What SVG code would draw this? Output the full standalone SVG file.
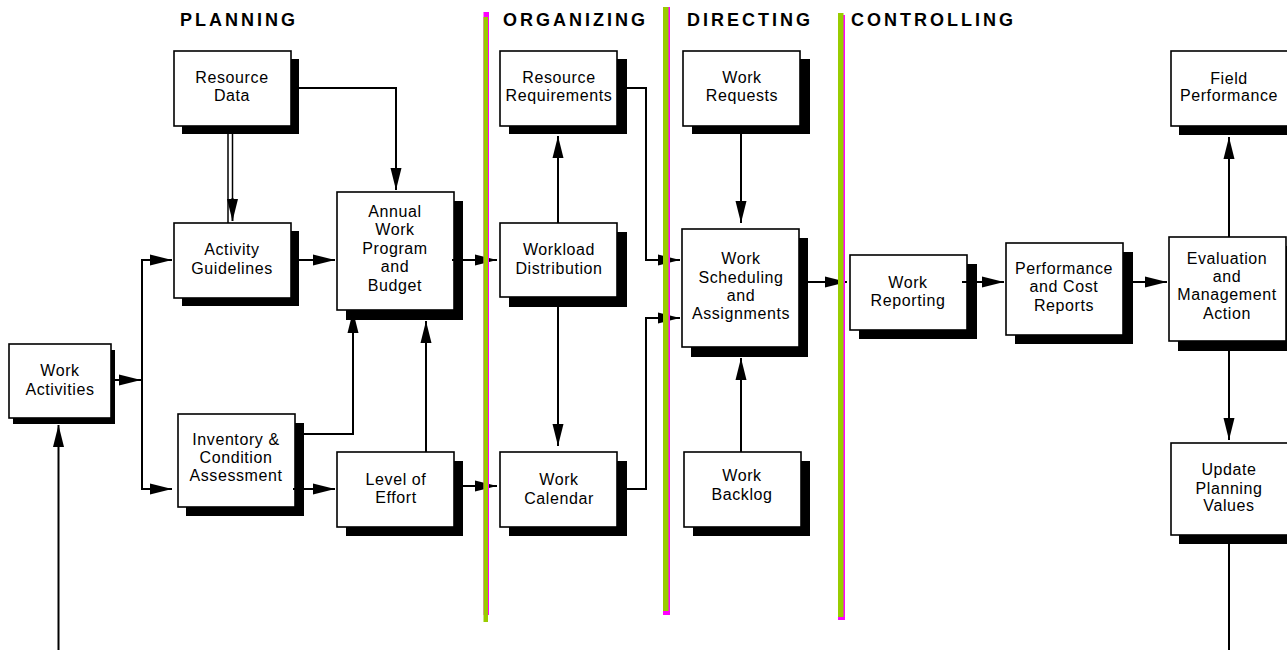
<svg xmlns="http://www.w3.org/2000/svg" width="1287" height="650" viewBox="0 0 1287 650">
<style>
.bg{fill:#fff}
.hdr{font-family:"Liberation Sans",Arial,sans-serif;font-size:18px;font-weight:bold;letter-spacing:3px;fill:#000}
.box{fill:#fff;stroke:#000;stroke-width:1.6}
.sh{fill:#000}
.t{font-family:"Liberation Sans",Arial,sans-serif;font-size:16px;letter-spacing:0.6px;fill:#000;text-anchor:middle}
.c{fill:none;stroke:#000;stroke-width:2}
.cd{fill:none;stroke:#000;stroke-width:1.5}
.ca{fill:none;stroke:#000;stroke-width:2;marker-end:url(#ah)}
.g{fill:#99cc00}
.m{fill:#ff00ff}
</style>
<defs>
<marker id="ah" markerUnits="userSpaceOnUse" markerWidth="23" markerHeight="12" viewBox="0 0 23 12" refX="22" refY="6" orient="auto">
<path d="M0,0.5 L22,6 L0,11.5 z" fill="#000"/>
</marker>
</defs>
<rect class="bg" x="0" y="0" width="1287" height="650"/>

<g id="headers">
<text class="hdr" x="180" y="26">PLANNING</text>
<text class="hdr" x="503" y="26">ORGANIZING</text>
<text class="hdr" x="687" y="26">DIRECTING</text>
<text class="hdr" x="851" y="26">CONTROLLING</text>
</g>

<g id="n-resource-data">
<rect class="sh" x="182" y="59" width="117" height="75"/>
<rect class="box" x="174" y="51" width="117" height="75"/>
<text class="t" x="232" y="83">Resource</text>
<text class="t" x="232" y="101">Data</text>
</g>
<g id="n-activity-guidelines">
<rect class="sh" x="182" y="231" width="117" height="75"/>
<rect class="box" x="174" y="223" width="117" height="75"/>
<text class="t" x="232" y="255">Activity</text>
<text class="t" x="232" y="274">Guidelines</text>
</g>
<g id="n-annual">
<rect class="sh" x="346" y="201" width="117" height="119"/>
<rect class="box" x="337" y="192" width="117" height="118"/>
<text class="t" x="395" y="217">Annual</text>
<text class="t" x="395" y="235">Work</text>
<text class="t" x="395" y="253.5">Program</text>
<text class="t" x="395" y="272">and</text>
<text class="t" x="395" y="290.5">Budget</text>
</g>
<g id="n-work-activities">
<rect class="sh" x="13" y="350" width="102" height="74"/>
<rect class="box" x="9" y="344" width="102" height="74"/>
<text class="t" x="60" y="376">Work</text>
<text class="t" x="60" y="394.5">Activities</text>
</g>
<g id="n-inventory">
<rect class="sh" x="186" y="423" width="118" height="93"/>
<rect class="box" x="178" y="414" width="117" height="93"/>
<text class="t" x="236" y="444.5">Inventory &amp;</text>
<text class="t" x="236" y="463">Condition</text>
<text class="t" x="236" y="481">Assessment</text>
</g>
<g id="n-level-effort">
<rect class="sh" x="346" y="461" width="117" height="75"/>
<rect class="box" x="337" y="452" width="117" height="75"/>
<text class="t" x="396" y="485">Level of</text>
<text class="t" x="396" y="503">Effort</text>
</g>
<g id="n-resource-req">
<rect class="sh" x="509" y="59" width="118" height="75"/>
<rect class="box" x="500" y="51" width="117" height="75"/>
<text class="t" x="559" y="83">Resource</text>
<text class="t" x="559" y="101">Requirements</text>
</g>
<g id="n-workload">
<rect class="sh" x="509" y="232" width="118" height="75"/>
<rect class="box" x="500" y="223" width="117" height="74"/>
<text class="t" x="559" y="255">Workload</text>
<text class="t" x="559" y="274">Distribution</text>
</g>
<g id="n-work-calendar">
<rect class="sh" x="509" y="461" width="118" height="75"/>
<rect class="box" x="500" y="452" width="117" height="75"/>
<text class="t" x="559" y="485">Work</text>
<text class="t" x="559" y="503.5">Calendar</text>
</g>
<g id="n-work-requests">
<rect class="sh" x="692" y="59" width="118" height="75"/>
<rect class="box" x="683" y="51" width="117" height="75"/>
<text class="t" x="742" y="83">Work</text>
<text class="t" x="742" y="101">Requests</text>
</g>
<g id="n-work-scheduling">
<rect class="sh" x="691" y="238" width="117" height="119"/>
<rect class="box" x="682" y="229" width="117" height="118"/>
<text class="t" x="741" y="264">Work</text>
<text class="t" x="741" y="282.5">Scheduling</text>
<text class="t" x="741" y="300.5">and</text>
<text class="t" x="741" y="318.5">Assignments</text>
</g>
<g id="n-work-backlog">
<rect class="sh" x="693" y="461" width="117" height="75"/>
<rect class="box" x="684" y="452" width="117" height="75"/>
<text class="t" x="742" y="481">Work</text>
<text class="t" x="742" y="500">Backlog</text>
</g>
<g id="n-work-reporting">
<rect class="sh" x="859" y="264" width="118" height="75"/>
<rect class="box" x="850" y="255" width="117" height="75"/>
<text class="t" x="908" y="287.5">Work</text>
<text class="t" x="908" y="306">Reporting</text>
</g>
<g id="n-performance">
<rect class="sh" x="1015" y="252" width="118" height="92"/>
<rect class="box" x="1006" y="243" width="117" height="92"/>
<text class="t" x="1064" y="274">Performance</text>
<text class="t" x="1064" y="292">and Cost</text>
<text class="t" x="1064" y="311">Reports</text>
</g>
<g id="n-evaluation">
<rect class="sh" x="1178" y="246" width="118" height="105"/>
<rect class="box" x="1169" y="237" width="117" height="104"/>
<text class="t" x="1227" y="263.5">Evaluation</text>
<text class="t" x="1227" y="282">and</text>
<text class="t" x="1227" y="300">Management</text>
<text class="t" x="1227" y="318.5">Action</text>
</g>
<g id="n-field-performance">
<rect class="sh" x="1179" y="59" width="118" height="76"/>
<rect class="box" x="1171" y="51" width="117" height="75"/>
<text class="t" x="1229" y="83.5">Field</text>
<text class="t" x="1229" y="101">Performance</text>
</g>
<g id="n-update-planning">
<rect class="sh" x="1179" y="452" width="118" height="92"/>
<rect class="box" x="1171" y="443" width="117" height="92"/>
<text class="t" x="1229" y="475">Update</text>
<text class="t" x="1229" y="493.5">Planning</text>
<text class="t" x="1229" y="511">Values</text>
</g>

<g id="connectors">
<path class="cd" d="M228,126 V223"/>
<path class="cd" d="M232.5,126 V200"/>
<path class="ca" d="M232.5,198 V221"/>
<path class="ca" d="M299,88 H396 V190"/>
<path class="ca" d="M299,260 H335"/>
<path class="ca" d="M452,260 H497"/>
<path class="ca" d="M115,380 H141"/>
<path class="c" d="M142,259 V490"/>
<path class="ca" d="M141,260 H172"/>
<path class="ca" d="M141,489 H172"/>
<path class="ca" d="M304,434 H353 V311"/>
<path class="ca" d="M426,452 V321"/>
<path class="ca" d="M293,489 H335"/>
<path class="ca" d="M463,486 H497"/>
<path class="ca" d="M558,223 V136"/>
<path class="ca" d="M558,307 V446"/>
<path class="ca" d="M627,88 H646 V260 H680"/>
<path class="ca" d="M627,489 H646 V318 H680"/>
<path class="ca" d="M741,134 V223"/>
<path class="ca" d="M741,452 V358"/>
<path class="ca" d="M808,282 H847"/>
<path class="ca" d="M962,282 H1004"/>
<path class="ca" d="M1133,282 H1167"/>
<path class="ca" d="M1229,237 V137"/>
<path class="ca" d="M1229,351 V440"/>
<path class="c" d="M1229,544 V650"/>
<path class="ca" d="M58.5,650 V425"/>
</g>

<g id="separators">
<rect class="m" x="483.5" y="12" width="5.5" height="603"/>
<rect class="g" x="483.5" y="17" width="4.5" height="605"/>
<rect class="m" x="663" y="7" width="7" height="608"/>
<rect class="g" x="663" y="7" width="5.5" height="604"/>
<rect class="m" x="838" y="15" width="7" height="605"/>
<rect class="g" x="838" y="13" width="5.5" height="604"/>
</g>
</svg>
